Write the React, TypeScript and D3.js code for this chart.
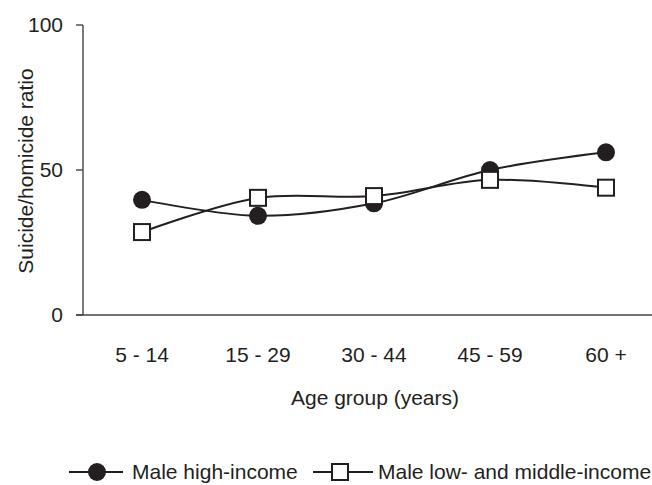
import React from "react";
import * as d3 from "d3";

const categories = ["5 - 14", "15 - 29", "30 - 44", "45 - 59", "60 +"];
const highIncome = [39.7, 34.2, 38.5, 50.0, 56.1];
const lowMiddleIncome = [28.6, 40.4, 41.0, 46.6, 43.9];
const yTicks = [0, 50, 100];
const seriesNames = ["Male high-income", "Male low- and middle-income"];

const W = 652;
const H = 485;
const FONT = "'Liberation Sans', Arial, Helvetica, sans-serif";
const INK = "#231f20";

export default function App() {
  const x = d3.scalePoint<string>().domain(categories).range([142, 606]);
  const y = d3.scaleLinear().domain([0, 100]).range([315, 25]);
  const line = d3
    .line<number>()
    .x((_, i) => x(categories[i]) as number)
    .y((d) => y(d))
    .curve(d3.curveCatmullRom.alpha(0.5));

  return (
    <svg
      width={W}
      height={H}
      style={{ position: "absolute", left: 0, top: 0, background: "#fff" }}
      fontFamily={FONT}
    >
      {/* axes */}
      <line x1={83} x2={83} y1={y(100)} y2={y(0)} stroke="#444" strokeWidth={1.4} />
      <line x1={76} x2={W} y1={y(0)} y2={y(0)} stroke="#444" strokeWidth={1.4} />
      {yTicks.map((t) => (
        <g key={t}>
          <line x1={76} x2={83} y1={y(t)} y2={y(t)} stroke="#444" strokeWidth={1.4} />
          <text x={63} y={y(t)} dy="0.35em" textAnchor="end" fontSize={21} fill={INK}>
            {t}
          </text>
        </g>
      ))}
      {categories.map((c) => (
        <text key={c} x={x(c)} y={362} textAnchor="middle" fontSize={21} fill={INK}>
          {c}
        </text>
      ))}
      <text x={375} y={405} textAnchor="middle" fontSize={21} fill={INK}>
        Age group (years)
      </text>
      <text
        transform={`translate(33,171) rotate(-90)`}
        textAnchor="middle"
        fontSize={21}
        fill={INK}
      >
        Suicide/homicide ratio
      </text>

      {/* lines */}
      <path d={line(highIncome) || ""} fill="none" stroke={INK} strokeWidth={2} />
      <path d={line(lowMiddleIncome) || ""} fill="none" stroke={INK} strokeWidth={2} />
      {highIncome.map((v, i) => (
        <circle key={"h" + i} cx={x(categories[i])} cy={y(v)} r={9} fill={INK} />
      ))}
      {lowMiddleIncome.map((v, i) => (
        <rect
          key={"l" + i}
          x={(x(categories[i]) as number) - 8}
          y={y(v) - 8}
          width={16}
          height={16}
          fill="#fff"
          stroke={INK}
          strokeWidth={2}
        />
      ))}

      {/* legend */}
      <g>
        <line x1={69} x2={123} y1={472} y2={472} stroke={INK} strokeWidth={2} />
        <circle cx={97} cy={472} r={9} fill={INK} />
        <text x={132} y={472} dy="0.35em" fontSize={21} fill={INK}>
          {seriesNames[0]}
        </text>
        <line x1={313} x2={373} y1={472} y2={472} stroke={INK} strokeWidth={2} />
        <rect x={332} y={464} width={16} height={16} fill="#fff" stroke={INK} strokeWidth={2} />
        <text x={378} y={472} dy="0.35em" fontSize={21} fill={INK}>
          {seriesNames[1]}
        </text>
      </g>
    </svg>
  );
}
